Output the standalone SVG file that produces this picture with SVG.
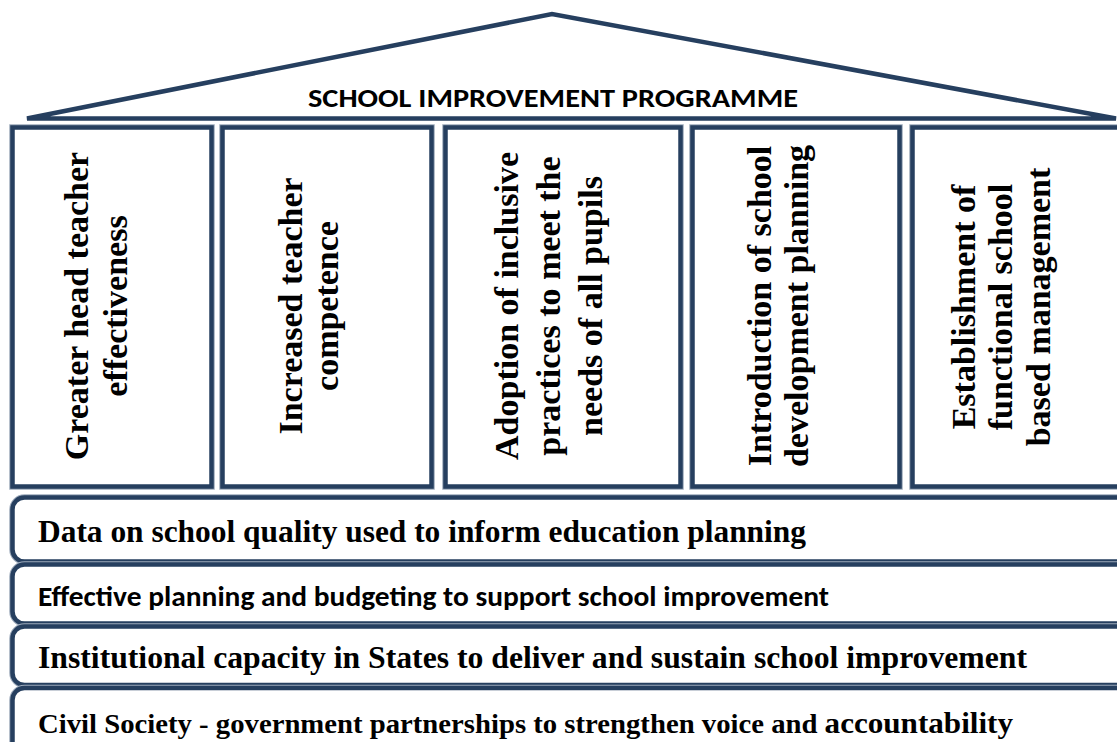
<svg xmlns="http://www.w3.org/2000/svg" width="1117" height="742" viewBox="0 0 1117 742">
  <style>
    .halo { fill: none; stroke: #9DAABB; stroke-width: 6.5; }
    .box { fill: #FFFFFF; stroke: #263F5F; stroke-width: 4.5; }
    .roof { fill: none; stroke: #263F5F; stroke-width: 4.5; stroke-linejoin: miter; }
    .pt { font-family: "Liberation Serif", "Times New Roman", serif; font-weight: bold; font-size: 34px; fill: #000; text-anchor: middle; }
    .title { font-family: Calibri, Carlito, "Liberation Sans", Arial, sans-serif; font-weight: bold; font-size: 25.5px; fill: #000; }
    .bs { font-family: "Liberation Serif", "Times New Roman", serif; font-weight: bold; fill: #000; }
    .bsans { font-family: Calibri, Carlito, "Liberation Sans", Arial, sans-serif; font-weight: bold; font-size: 27.5px; fill: #000; }
  </style>

  <g id="roof">
    <polygon class="roof" points="27,118.5 552,14 1116,118.5"/>
    <text class="title" x="308" y="107" textLength="490" lengthAdjust="spacingAndGlyphs">SCHOOL IMPROVEMENT PROGRAMME</text>
  </g>

  <g id="pillar1">
    <rect class="halo" x="12.5" y="127.5" width="199" height="359"/>
    <rect class="box" x="12.5" y="127.5" width="199" height="359"/>
    <text class="pt" transform="translate(88,306) rotate(-90)">Greater head teacher</text>
    <text class="pt" transform="translate(127,306) rotate(-90)">effectiveness</text>
  </g>

  <g id="pillar2">
    <rect class="halo" x="222.5" y="127.5" width="209" height="359"/>
    <rect class="box" x="222.5" y="127.5" width="209" height="359"/>
    <text class="pt" transform="translate(302,306) rotate(-90)">Increased teacher</text>
    <text class="pt" transform="translate(338,306) rotate(-90)">competence</text>
  </g>

  <g id="pillar3">
    <rect class="halo" x="445.5" y="127.5" width="235" height="359"/>
    <rect class="box" x="445.5" y="127.5" width="235" height="359"/>
    <text class="pt" transform="translate(518,306) rotate(-90)">Adoption of inclusive</text>
    <text class="pt" transform="translate(560,306) rotate(-90)">practices to meet the</text>
    <text class="pt" transform="translate(602,306) rotate(-90)">needs of all pupils</text>
  </g>

  <g id="pillar4">
    <rect class="halo" x="692.5" y="127.5" width="207" height="359"/>
    <rect class="box" x="692.5" y="127.5" width="207" height="359"/>
    <text class="pt" transform="translate(771,306) rotate(-90)">Introduction of school</text>
    <text class="pt" transform="translate(808,306) rotate(-90)">development planning</text>
  </g>

  <g id="pillar5">
    <rect class="halo" x="912.5" y="127.5" width="230" height="359"/>
    <rect class="box" x="912.5" y="127.5" width="230" height="359"/>
    <text class="pt" transform="translate(975,307) rotate(-90)">Establishment of</text>
    <text class="pt" transform="translate(1012,307) rotate(-90)">functional school</text>
    <text class="pt" transform="translate(1050,307) rotate(-90)">based management</text>
  </g>

  <g id="bar1">
    <rect class="halo" x="12.5" y="497.5" width="1200" height="64" rx="12"/>
    <rect class="box" x="12.5" y="497.5" width="1200" height="64" rx="12"/>
    <text class="bs" x="38" y="542" font-size="31.4" textLength="768" lengthAdjust="spacingAndGlyphs">Data on school quality used to inform education planning</text>
  </g>

  <g id="bar2">
    <rect class="halo" x="12.5" y="564.5" width="1200" height="59" rx="12"/>
    <rect class="box" x="12.5" y="564.5" width="1200" height="59" rx="12"/>
    <text class="bsans" x="38" y="606" textLength="791" lengthAdjust="spacingAndGlyphs">Effective planning and budgeting to support school improvement</text>
  </g>

  <g id="bar3">
    <rect class="halo" x="12.5" y="626.5" width="1200" height="58.5" rx="12"/>
    <rect class="box" x="12.5" y="626.5" width="1200" height="58.5" rx="12"/>
    <text class="bs" x="38" y="668" font-size="31.6" textLength="989" lengthAdjust="spacingAndGlyphs">Institutional capacity in States to deliver and sustain school improvement</text>
  </g>

  <g id="bar4">
    <rect class="halo" x="12.5" y="688" width="1200" height="100" rx="12"/>
    <rect class="box" x="12.5" y="688" width="1200" height="100" rx="12"/>
    <text class="bs" x="38" y="733" font-size="27.7" textLength="975" lengthAdjust="spacingAndGlyphs">Civil Society - government partnerships to strengthen voice and <tspan font-size="30">accountability</tspan></text>
  </g>
</svg>
